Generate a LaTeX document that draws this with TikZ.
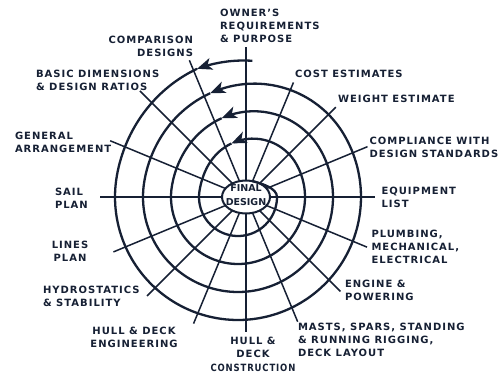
\documentclass[tikz,border=0pt]{standalone}
\usepackage{fontspec}
\setmainfont[LetterSpace=10]{DejaVu Sans}
\usetikzlibrary{arrows.meta,shapes.geometric}
\definecolor{ink}{RGB}{22,32,52}
\begin{document}
\begin{tikzpicture}[x=1pt,y=-1pt,
  ring/.style={draw=ink, line width=2.3pt},
  spoke/.style={draw=ink, line width=1.5pt},
  lbl/.style={text=ink, font=\bfseries\fontsize{10}{13}\selectfont, inner sep=0pt, outer sep=0pt},
  tip/.style={-{Stealth[length=15pt,width=12pt,inset=4pt]}},
  declare function={cl(\u)=max(0,min(1,\u)); ez(\u)=(1-cos(180*cl(\u)))/2;
    g(\t)=ez((\t-30)/140)+ez((\t-390)/140)+ez((\t-750)/140)+ez((\t-1110)/140);
    rr(\t)=151-28*g(\t); ro(\t)=137-(\t-84)*(137-134.6)/(107.7-84);}
]
\fill[white] (0,0) rectangle (498,376);
\useasboundingbox (0,0) rectangle (498,376);

% final design ellipse
\node[draw=ink, line width=2pt, ellipse, minimum width=48pt, minimum height=33pt, inner sep=0pt, outer sep=0pt] (final) at (246,197) {};
\node[lbl, align=center, font=\bfseries\fontsize{9.5}{14.4}\selectfont\addfontfeatures{LetterSpace=0}] (finaltext) at (246,195) {FINAL\\DESIGN};

% spokes
\foreach \a/\L [count=\i] in {0/129, 22.5/131.5, 45/127, 67.5/124, 90/150, 112.5/148, 135/150, 157.5/147, 180/146, 202.5/143.5, 225/140, 247.5/137, 270/135, 292.5/135, 315/133.5, 337.5/131}{
  \coordinate (e\i) at ({246+\L*cos(\a)},{197-\L*sin(\a)});
  \draw[spoke] (final) -- (e\i);
}

% spiral
\draw[ring, tip] plot[smooth, domain=84:107.7, samples=8] ({238+ro(\x)*cos(\x)},{197-ro(\x)*sin(\x)});
\draw[ring, tip] plot[smooth, domain=107.7:465, samples=90] ({238+rr(\x)*cos(\x)},{197-rr(\x)*sin(\x)});
\draw[ring, tip] plot[smooth, domain=465:821.7, samples=90] ({238+rr(\x)*cos(\x)},{197-rr(\x)*sin(\x)});
\draw[ring, tip] plot[smooth, domain=821.7:1177, samples=90] ({238+rr(\x)*cos(\x)},{197-rr(\x)*sin(\x)});
\draw[ring] plot[smooth, domain=1177:1440, samples=70] ({238+rr(\x)*cos(\x)},{197-rr(\x)*sin(\x)})
  .. controls (277,188) and (261.6,183.5) .. (final.68);

% labels
\node[lbl, anchor=north west, align=left] (owner) at (220,9.5) {OWNER'S\\REQUIREMENTS\\\& PURPOSE};
\node[lbl, anchor=north east, align=right] (comp) at (193,36.5) {COMPARISON\\DESIGNS};
\node[lbl, anchor=north west, align=left] (basic) at (36,70) {BASIC DIMENSIONS\\\& DESIGN RATIOS};
\node[lbl, anchor=north west, align=left] (gen) at (15,132.5) {GENERAL\\ARRANGEMENT};
\node[lbl, anchor=north west, align=left] (sail) at (55,188) {SAIL\\PLAN};
\node[lbl, anchor=north, align=center] (lines) at (70,241.5) {LINES\\PLAN};
\node[lbl, anchor=north west, align=left] (hydro) at (43,286.5) {HYDROSTATICS\\\& STABILITY};
\node[lbl, anchor=north, align=center] (hde) at (134,327.5) {HULL \& DECK\\ENGINEERING};
\node[lbl, anchor=north, align=center, font=\bfseries\fontsize{10}{13.5}\selectfont] (hdc) at (253,337) {HULL \&\\DECK\\\scalebox{0.85}[1]{CONSTRUCTION}};
\node[lbl, anchor=north west, align=left] (masts) at (298,323) {MASTS, SPARS, STANDING\\\& RUNNING RIGGING,\\DECK LAYOUT};
\node[lbl, anchor=north west, align=left] (engine) at (345,280) {ENGINE \&\\POWERING};
\node[lbl, anchor=north west, align=left] (plumb) at (371.5,230) {PLUMBING,\\MECHANICAL,\\ELECTRICAL};
\node[lbl, anchor=north west, align=left] (equip) at (381.5,187.5) {EQUIPMENT\\LIST};
\node[lbl, anchor=north west, align=left] (compl) at (369.5,137) {COMPLIANCE WITH\\DESIGN STANDARDS};
\node[lbl, anchor=north west] (weight) at (338,95) {WEIGHT ESTIMATE};
\node[lbl, anchor=north west] (cost) at (295,70.5) {COST ESTIMATES};
\end{tikzpicture}
\end{document}
